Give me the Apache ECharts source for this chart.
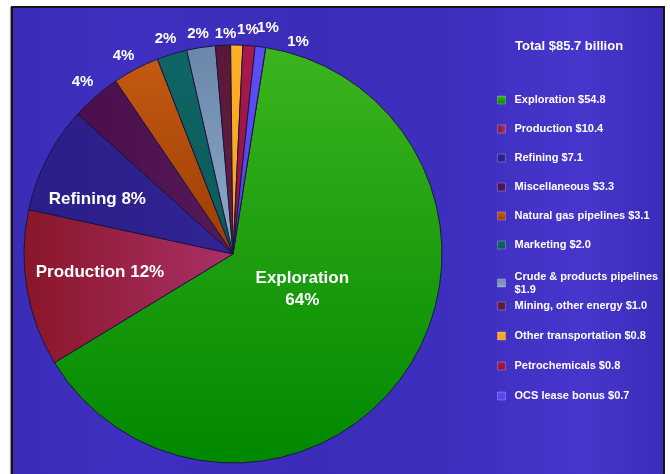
<!DOCTYPE html>
<html><head><meta charset="utf-8">
<script src="https://cdn.jsdelivr.net/npm/echarts@6/dist/echarts.min.js"></script>
<style>
html,body{margin:0;padding:0;background:#fff;width:670px;height:474px;overflow:hidden}
#frame{position:absolute;left:11px;top:6px;width:650px;height:470px;border:2px solid #141414;border-bottom:none;
background:linear-gradient(90deg,#3a2cb6 0%,#4030c2 18%,#3b2cb8 45%,#3f2fc0 70%,#4636cc 88%,#3b2cba 100%);
box-shadow:-1px 1px 1px #9a9a9a}
#chart{position:absolute;left:0;top:0;width:670px;height:474px}
</style></head>
<body>
<div id="frame"></div>
<div id="chart"></div>
<script>
const categories = ['Exploration','Production','Refining','Miscellaneous','Natural gas pipelines','Marketing',
  'Crude & products pipelines','Mining, other energy','Other transportation','Petrochemicals','OCS lease bonus'];
const values = [54.8, 10.4, 7.1, 3.3, 3.1, 2.0, 1.9, 1.0, 0.8, 0.8, 0.7];
const totalLabel = 'Total $85.7 billion';
// gradient stops per slice: [start, end, direction]
const sliceColors = [
  ['#3cb41e', '#008800', 'v'],
  ['#8a1628', '#aa3068', 'h'],
  ['#2a1e88', '#322494', 'h'],
  ['#4a0e4c', '#561a58', 'h'],
  ['#c45a12', '#9c3c02', 'v'],
  ['#0e6664', '#0c5a58', 'v'],
  ['#6a86a8', '#8eaacb', 'v'],
  ['#5a1838', '#641e40', 'v'],
  ['#ffb028', '#ff9c14', 'v'],
  ['#a81a4c', '#8e1240', 'v'],
  ['#5c4ef6', '#5244ea', 'v']
];
const labelNudges = [[-20,-25],[-27,0],[-40,-6],[7,-4],[5,-1],[8.5,-2],[10,0],[14,3],[0,-1],[7,-4],[25,9]];
const FONT = '"Liberation Sans", Arial, sans-serif';

function grad(c){
  const v = c[2] === 'v';
  return new echarts.graphic.LinearGradient(0, 0, v ? 0 : 1, v ? 1 : 0,
    [{offset:0, color:c[0]}, {offset:1, color:c[1]}]);
}

const data = categories.map((name, i) => {
  const d = {name, value: values[i], itemStyle: {color: grad(sliceColors[i])}};
  if (i === 0) d.label = {position:'inside', fontSize:17, lineHeight:22, formatter:'{b}\n{d}%'};
  if (i === 1 || i === 2) d.label = {position:'inside', fontSize:17, formatter:'{b} {d}%'};
  return d;
});

function legendFmt(name){
  const i = categories.indexOf(name);
  const sep = name.indexOf('Crude') === 0 ? '\n' : ' ';
  return name + sep + '$' + values[i].toFixed(1);
}
const legendBase = {
  orient:'vertical', left:497, padding:0, itemWidth:8, itemHeight:8, icon:'rect',
  formatter: legendFmt, selectedMode:false,
  itemStyle:{borderColor:'rgba(255,255,255,0.25)', borderWidth:1},
  textStyle:{color:'#fff', fontSize:11, fontWeight:'bold', fontFamily:FONT, lineHeight:13, padding:[0,0,0,4]}
};

const chart = echarts.init(document.getElementById('chart'), null, {renderer:'canvas'});
chart.setOption({
  animation:false,
  backgroundColor:'transparent',
  title:{text: totalLabel, left:515, top:40, padding:0,
    textStyle:{color:'#fff', fontSize:13, fontWeight:'bold', fontFamily:FONT}},
  legend:[
    Object.assign({}, legendBase, {top:93.5, itemGap:16, data: categories.slice(0,6)}),
    Object.assign({}, legendBase, {top:270, itemGap:16, data: categories.slice(6,7)}),
    Object.assign({}, legendBase, {top:299.5, itemGap:17, data: categories.slice(7)})
  ],
  series:[{
    type:'pie', center:[233,254], radius:209, startAngle:81, clockwise:true,
    avoidLabelOverlap:false, silent:true, percentPrecision:0,
    itemStyle:{borderColor:'#1a1640', borderWidth:1},
    label:{show:true, position:'outside', formatter:'{d}%', color:'#fff', fontSize:15,
      fontWeight:'bold', fontFamily:FONT, distanceToLabelLine:0},
    labelLine:{show:false, length:14, length2:0},
    labelLayout: function(p){ const n = labelNudges[p.dataIndex]; return {dx:n[0], dy:n[1]}; },
    emphasis:{disabled:true},
    data: data
  }]
});
</script>
</body></html>
